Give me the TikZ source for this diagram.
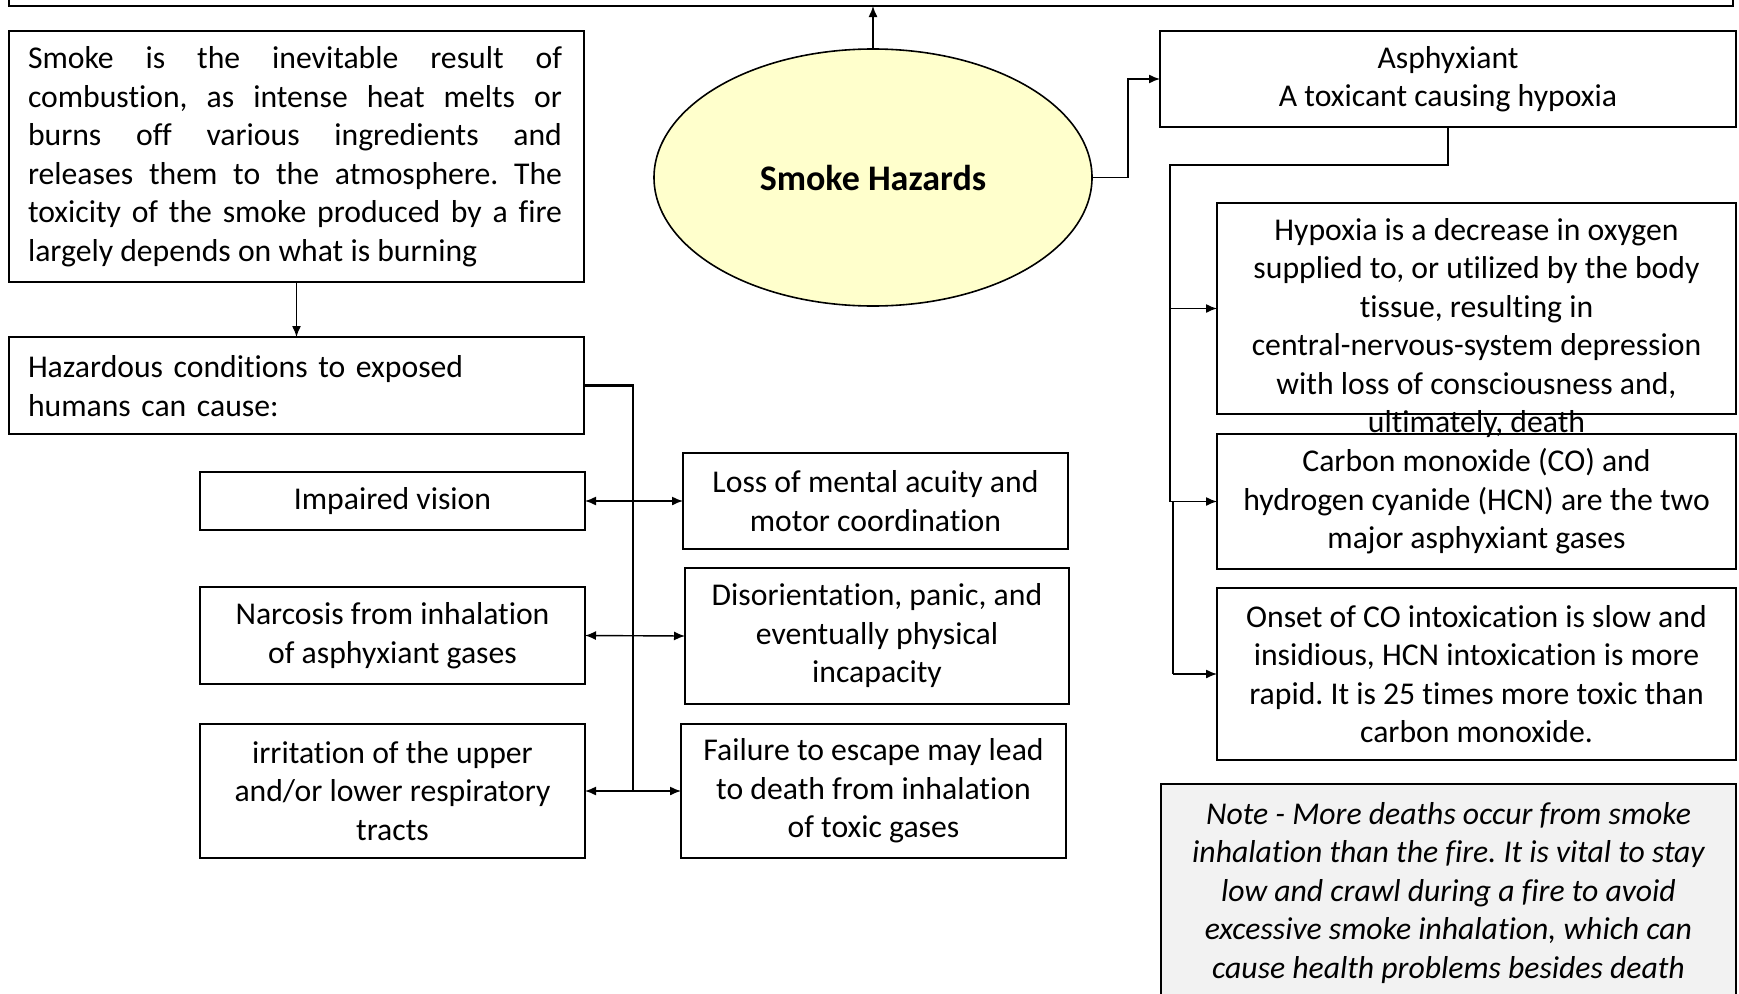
\documentclass[tikz,border=0pt]{standalone}
\usepackage{fontspec}
\setmainfont{Carlito}[RawFeature=-liga]
\usetikzlibrary{shapes.geometric,arrows.meta}
\definecolor{hazardfill}{HTML}{FFFFCC}
\definecolor{notefill}{HTML}{F2F2F2}
\frenchspacing
\begin{document}
\begin{tikzpicture}[x=1pt,y=-1pt,
  box/.style={draw,line width=1.6pt,rectangle,inner sep=0pt,outer sep=0pt},
  txt/.style={font=\fontsize{31.7}{38.5}\selectfont,align=center,inner sep=0pt},
  conn/.style={line width=1.4pt},
  arr/.style={conn,-{Latex[length=11pt,width=9pt]}},
  darr/.style={conn,{Latex[length=11pt,width=9pt]}-{Latex[length=11pt,width=9pt]}}]
\useasboundingbox (0,0) rectangle (1739,993);

% top banner (cut by the page edge)
\node[box,minimum width=1724pt,minimum height=80pt,anchor=south] (top) at (871,6) {};

% central topic
\node[draw,ellipse,line width=1.6pt,fill=hazardfill,minimum width=438pt,minimum height=257pt,
  inner sep=0pt,font=\fontsize{36}{43}\selectfont\bfseries] (hz) at (873,177.5) {Smoke Hazards};

% left column
\node[box,minimum width=575pt,minimum height=251pt] (smoke) at (296.5,156.5) {};
\node[txt,text width=534pt,align=justify] at (295,156.5) {Smoke is the inevitable result of\linebreak
combustion, as intense heat melts or\linebreak burns off various ingredients and\linebreak
releases them to the atmosphere. The\linebreak toxicity of the smoke produced by a fire\linebreak
largely depends on what is burning};

\node[box,minimum width=575pt,minimum height=97pt] (cond) at (296.5,385.5) {};
\node[txt,text width=537pt,align=left] at (296.5,386) {Hazardous conditions to exposed\\humans can cause:};

\node[box,txt,minimum width=385pt,minimum height=58pt] (imp) at (392.5,501) {Impaired vision};
\node[box,txt,minimum width=385pt,minimum height=97pt] (narc) at (392.5,635.5) {Narcosis from inhalation\\of asphyxiant gases};
\node[box,txt,minimum width=385pt,minimum height=134pt] (irr) at (392.5,791) {irritation of the upper\\and/or lower respiratory\\tracts};

\node[box,txt,minimum width=385pt,minimum height=96pt] (loss) at (875.5,501) {Loss of mental acuity and\\motor coordination};
\node[box,txt,minimum width=384pt,minimum height=136pt] (dis) at (877,636) {Disorientation, panic, and\\eventually physical\\incapacity};
\node[box,txt,minimum width=385pt,minimum height=134pt] (fail) at (873.5,791) {Failure to escape may lead\\to death from inhalation\\of toxic gases};

% right column
\node[box,txt,minimum width=576pt,minimum height=96pt] (asph) at (1448,79) {Asphyxiant\\A toxicant causing hypoxia};
\node[box,minimum width=519pt,minimum height=211pt] (hyp) at (1476.5,308.5) {};
\node[txt] at (1476.5,328) {Hypoxia is a decrease in oxygen\\supplied to, or utilized by the body\\tissue, resulting in\\central-nervous-system depression\\with loss of consciousness and,\\ultimately, death};
\node[box,txt,minimum width=519pt,minimum height=135pt] (co) at (1476.5,501.5) {Carbon monoxide (CO) and\\hydrogen cyanide (HCN) are the two\\major asphyxiant gases};
\node[box,txt,minimum width=519pt,minimum height=172pt] (onset) at (1476.5,674) {Onset of CO intoxication is slow and\\insidious, HCN intoxication is more\\rapid. It is 25 times more toxic than\\carbon monoxide.};

\node[box,fill=notefill,minimum width=575pt,minimum height=260pt,anchor=north] (note) at (1448.5,784) {};
\node[txt,font=\fontsize{31.7}{38.5}\selectfont\itshape] at (1448.5,893) {Note - More deaths occur from smoke\\inhalation than the fire. It is vital to stay\\low and crawl during a fire to avoid\\excessive smoke inhalation, which can\\cause health problems besides death};

% connectors
\draw[arr] (hz.north) -- (hz.north |- top.south);
\draw[arr] (hz.east) -- ++(35,0) |- (asph.west);
\draw[arr] (smoke.south) -- (cond.north);

\coordinate (bus) at (633,385.5);
\draw[line width=2.6pt] (cond.east) -- (bus) -- (bus |- narc.east);
\draw[conn] (bus |- narc.east) -- (bus |- irr.east);
\draw[darr] (imp.east) -- (loss.west);
\draw[darr] (narc.east) -- (dis.west);
\draw[darr] (irr.east) -- (fail.west);

\coordinate (rbus) at (1170,165);
\draw[conn] (asph.south) |- (rbus) -- (rbus |- co.west) -- ++(3,0) -- (1173,674);
\draw[arr] (rbus |- hyp.west) -- (hyp.west);
\draw[arr] (rbus |- co.west) -- (co.west);
\draw[arr] (1173,674) -- (onset.west);
\end{tikzpicture}
\end{document}
